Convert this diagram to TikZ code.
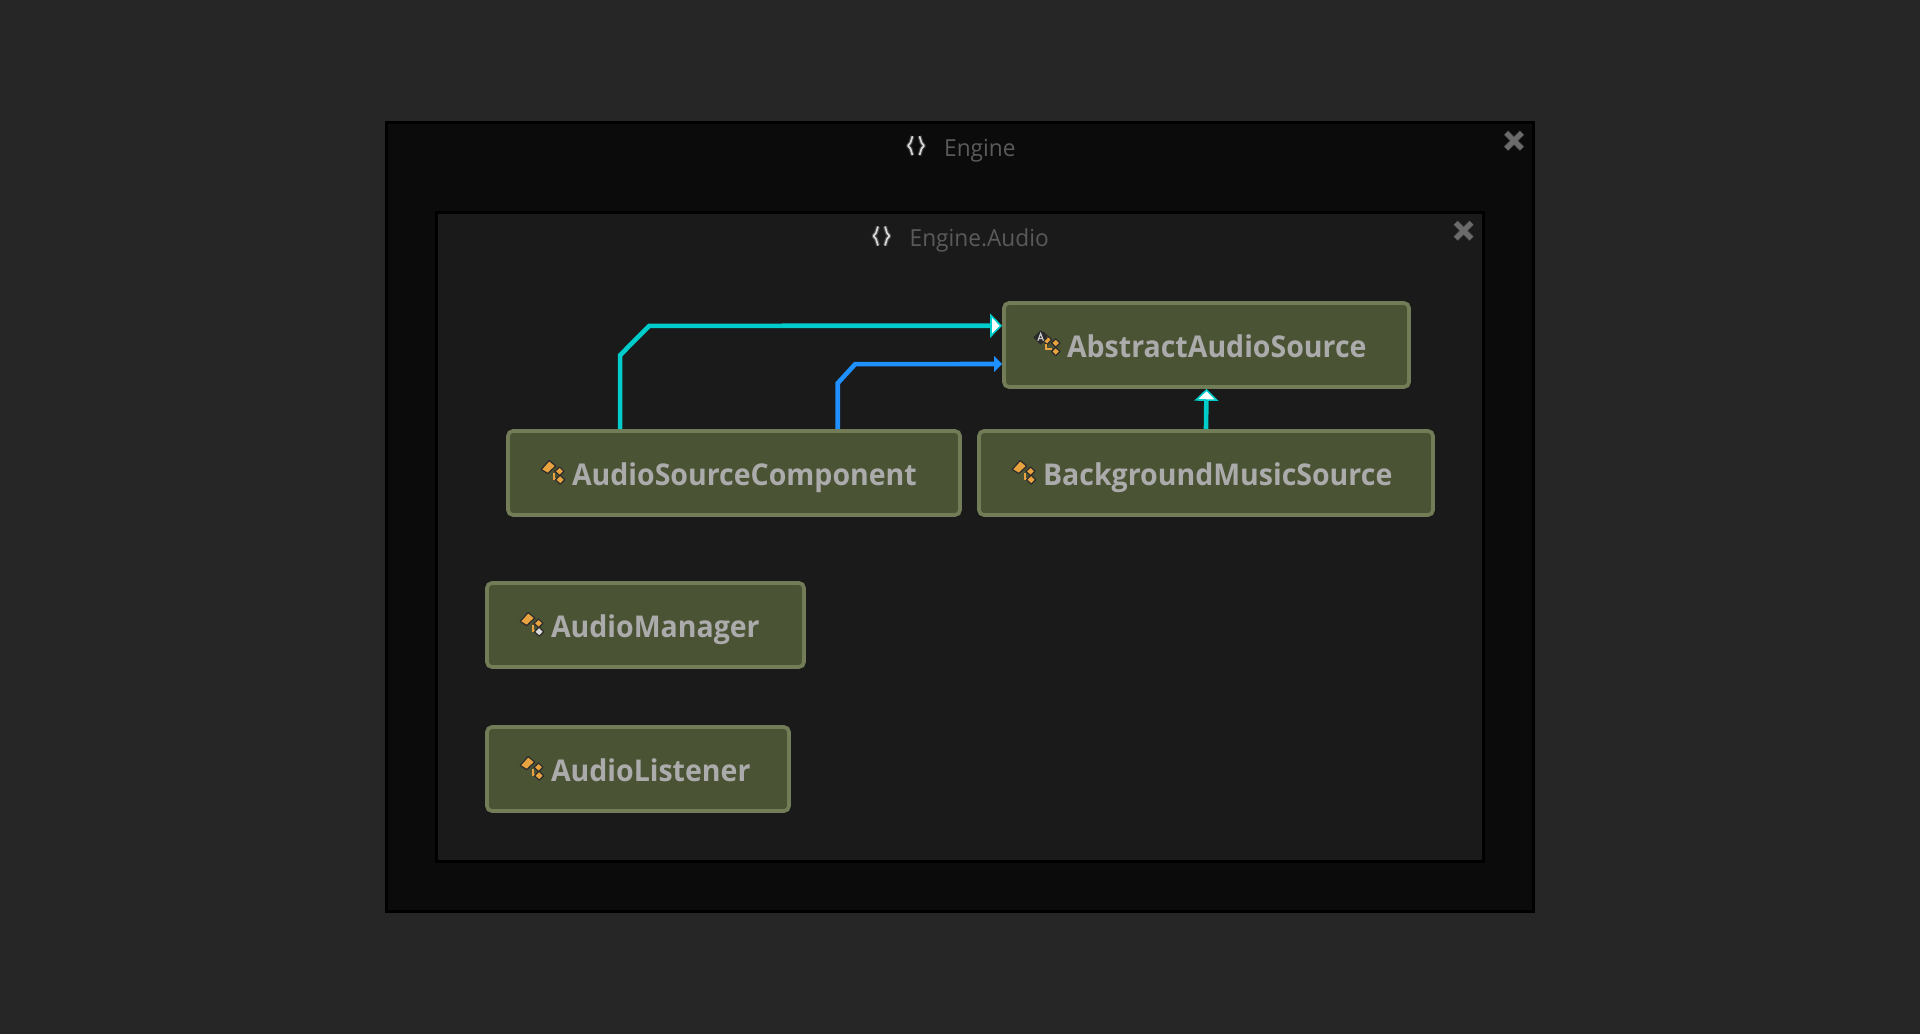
\documentclass[tikz,border=0pt]{standalone}
\usepackage{fontspec}
\setmainfont{Open Sans}
\newfontfamily\boxfont[FakeStretch=0.95]{Open Sans}
\newfontfamily\titlefont[FakeStretch=0.965]{Open Sans}
\usetikzlibrary{arrows.meta,calc}
\definecolor{pagebg}{HTML}{262626}
\definecolor{outerbg}{HTML}{0B0B0B}
\definecolor{innerbg}{HTML}{1A1A1A}
\definecolor{boxfill}{HTML}{4B5335}
\definecolor{boxline}{HTML}{727C56}
\definecolor{boxtext}{HTML}{ABABAB}
\definecolor{titletext}{HTML}{5A5A5A}
\definecolor{inherit}{HTML}{00CCCC}
\definecolor{reference}{HTML}{1E90FF}
\definecolor{iconorange}{HTML}{E8A23F}
\definecolor{iconedge}{HTML}{2B2B2B}
\tikzset{
  x=1pt,y=-1pt,
  framebox/.style={draw=black,line width=3pt,inner sep=0pt,rectangle},
  classbox/.style={draw=boxline,fill=boxfill,line width=3.7pt,rounded corners=5pt,rectangle,
    inner xsep=0pt,inner ysep=0pt,text width=#1,minimum height=84pt,align=left,
    text height=24pt,text depth=0pt,text=boxtext,font=\boxfont\bfseries\fontsize{30}{35}\selectfont},
  grouptitle/.style={anchor=base west,inner sep=0pt,text=titletext,font=\titlefont\fontsize{23.5}{28}\selectfont},
  inheritline/.style={draw=inherit,line width=4.6pt,line join=miter,
    -{Triangle[length=12pt,width=24pt,line width=1.6pt,fill=white,color=inherit,fill=white]}},
  refline/.style={draw=reference,line width=4.6pt,
    -{Triangle[length=8pt,width=16pt,line width=0pt,fill=reference,color=reference]}},
  iconpart/.style={fill=#1,draw=iconedge,line width=1.2pt,line join=round},
  iconlink/.style={draw=iconorange,line width=1.4pt},
  pics/classicon/.style={code={
    \path[iconpart=iconorange] (-11,-3.5)--(-3,-12.5)--(3.6,-7)--(-4.3,0.5)--cycle;
    \path[iconpart=iconorange] (2.8,-1.7)--(7.5,-6)--(11.8,-1.7)--(7.5,2.6)--cycle;
    \path[iconlink] (1.9,-0.5)--(1.9,6)--(6,6);
    \path[iconpart=#1] (3.4,6.7)--(8,2.2)--(12.6,6.7)--(8,11.2)--cycle;
  }},
  pics/abstracticon/.style={code={
    \path[iconpart=iconorange] (-3.5,-12.5)--(4.5,-5.5)--(0,-0.5)--(-6,-5.5)--cycle;
    \path[iconpart=iconorange] (4.4,-2)--(8.5,-6.2)--(12.8,-2)--(8.5,2.2)--cycle;
    \path[iconpart=iconorange] (4.4,6.5)--(8.5,2.4)--(12.8,6.5)--(8.5,10.8)--cycle;
    \path[iconlink] (-1,-1)--(-1,4)--(5,4);
    \path[iconpart=iconedge] (-13,-7.5)--(-6.5,-14)--(0,-7.5)--(-6.5,-1)--cycle;
    \draw[draw=white!80!black,line width=1.2pt] (-9.3,-4.3)--(-6.5,-11.5)--(-3.7,-4.3) (-8.4,-6.4)--(-4.6,-6.4);
  }},
  pics/bracesicon/.style={code={
    \draw[white,opacity=.22,line width=4pt,line join=round] (-3.5,-9.5)--(-5.5,-3)--(-8,0)--(-5.5,3)--(-3.5,9.5)
      (3.5,-9.5)--(5.5,-3)--(8,0)--(5.5,3)--(3.5,9.5);
    \draw[white!85!black,line width=1.7pt,line join=round] (-3.5,-9.5)--(-5.5,-3)--(-8,0)--(-5.5,3)--(-3.5,9.5)
      (3.5,-9.5)--(5.5,-3)--(8,0)--(5.5,3)--(3.5,9.5);
  }},
  pics/closeicon/.style={code={
    \draw[white!40!black,line width=6.5pt,opacity=.4] (-8,-8)--(8,8) (8,-8)--(-8,8);
    \draw[white!42!black,line width=5pt] (-7.8,-7.8)--(7.8,7.8) (7.8,-7.8)--(-7.8,7.8);
  }},
}
\begin{document}
\begin{tikzpicture}
\useasboundingbox (0,0) rectangle (1920,1034);
\fill[pagebg] (0,0) rectangle (1920,1034);
\node[framebox,fill=outerbg,minimum width=1147pt,minimum height=789pt] (outer) at (960,517) {};
\node[framebox,fill=innerbg,minimum width=1047pt,minimum height=649pt] (inner) at (960,537) {};
\node[grouptitle] (engine) at (944,156.7) {Engine};
\node[grouptitle] (engineaudio) at (909.5,246) {Engine.Audio};
\pic at (916,145.7) {bracesicon};
\pic at (881.5,236) {bracesicon};
\pic at (1514,140.7) {closeicon};
\pic at (1463.6,230.7) {closeicon};
\node[classbox=405pt] (abs) at (1206.5,345) {\hspace*{63pt}AbstractAudioSource};
\node[classbox=452pt] (asc) at (734,473) {\hspace*{64pt}AudioSourceComponent};
\node[classbox=454pt] (bms) at (1206,473) {\hspace*{64pt}BackgroundMusicSource};
\node[classbox=317pt] (mgr) at (645.5,625) {\hspace*{64pt}AudioManager};
\node[classbox=302pt] (lst) at (638,769) {\hspace*{64pt}AudioListener};
\pic at ($(abs.west)+(45,0)$) {abstracticon};
\pic at ($(asc.west)+(46,0)$) {classicon={iconorange}};
\pic at ($(bms.west)+(46,0)$) {classicon={iconorange}};
\pic at ($(mgr.west)+(46,0)$) {classicon={white!85!black}};
\pic at ($(lst.west)+(46,0)$) {classicon={iconorange}};
\draw[inheritline] ($(asc.north west)+(114,0)$) -- ++(0,-74) -- ++(29,-29.3) -- (abs.west |- 0,325.7);
\draw[refline] ($(asc.north west)+(331.6,0)$) -- ++(0,-46) -- ++(17.4,-19) -- (abs.west |- 0,364);
\draw[inheritline] (bms.north) -- (abs.south);
\end{tikzpicture}
\end{document}
